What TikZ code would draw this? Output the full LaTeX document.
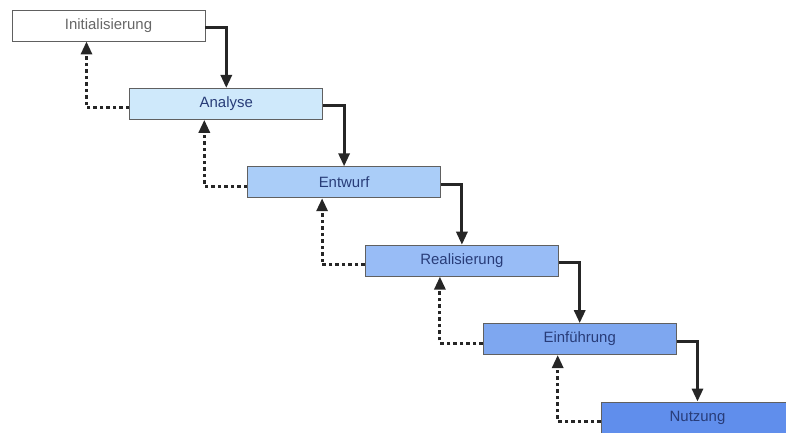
\documentclass[tikz,border=0pt]{standalone}
\usepackage{fontspec}
\setmainfont{Liberation Sans}
\usetikzlibrary{arrows.meta}
\definecolor{phaseA}{RGB}{207,233,251}
\definecolor{phaseB}{RGB}{170,205,248}
\definecolor{phaseC}{RGB}{152,188,246}
\definecolor{phaseD}{RGB}{126,167,240}
\definecolor{phaseE}{RGB}{96,142,236}
\definecolor{phasetext}{RGB}{40,60,120}

\begin{document}
\begin{tikzpicture}[x=1bp,y=-1bp,
  phase/.style={draw=gray!75!black,line width=0.9bp,minimum width=193bp,
    minimum height=31bp,inner sep=0pt,font=\fontsize{15}{18}\selectfont},
  flow/.style={-{Triangle[length=13bp,width=11bp]},line width=3bp,black!85},
  back/.style={flow,dash pattern=on 3.5bp off 3bp}]
\useasboundingbox (0,0) rectangle (786,433);
\clip (0,0) rectangle (786,433);
% phases
\foreach \n/\t/\c/\k [count=\i from 0] in {init/Initialisierung/white/gray!80!black,
    ana/Analyse/phaseA/phasetext, entw/Entwurf/phaseB/phasetext,
    real/Realisierung/phaseC/phasetext, einf/Einführung/phaseD/phasetext,
    nutz/Nutzung/phaseE/phasetext}
  \node[phase,fill=\c,text=\k] (\n) at (108.5+117.8*\i,25.5+78.4*\i) {\t};
% forward and backward steps
\foreach \a/\b in {init/ana, ana/entw, entw/real, real/einf, einf/nutz}
  {\draw[flow] ([yshift=-2bp]\a.east) -| (\b.north);
   \draw[back] ([yshift=-4bp]\b.west) -| ([xshift=-22bp]\a.south);}
\end{tikzpicture}
\end{document}
